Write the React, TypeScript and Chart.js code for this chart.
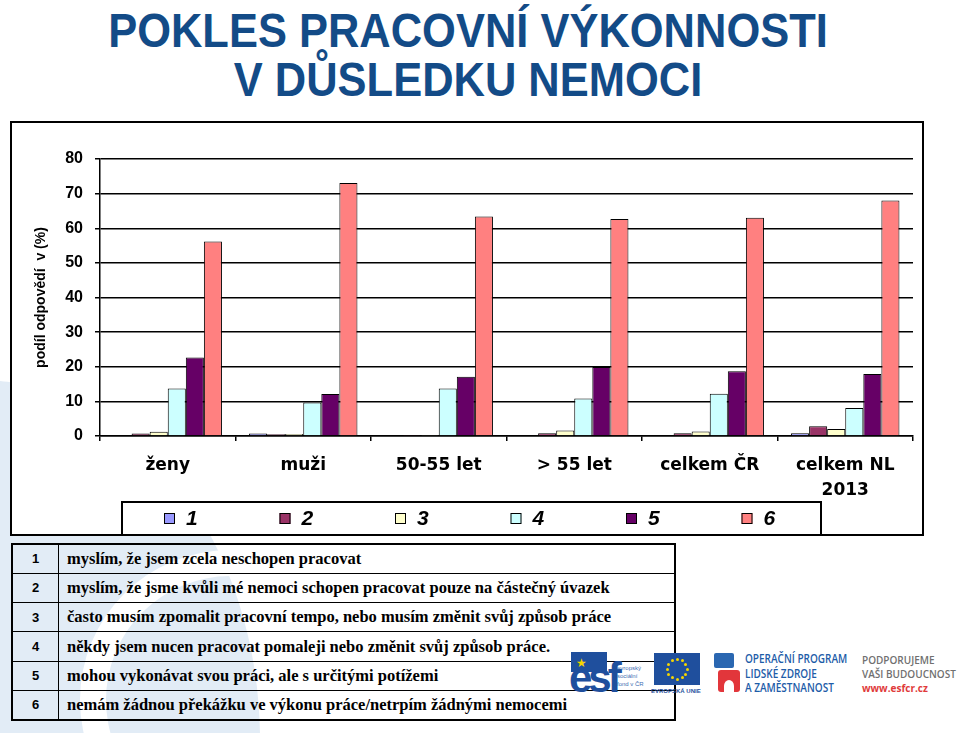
import React, { useEffect, useRef } from "react";
import { Chart, registerables } from "chart.js";

Chart.register(...registerables);

// ---------- data ----------
const categories: (string | string[])[] = ["ženy", "muži", "50-55 let", "> 55 let", "celkem ČR", ["celkem NL", "2013"]];
const seriesNames = ["1", "2", "3", "4", "5", "6"];
const series1 = [0, 0.7, 0, 0.2, 0.2, 0.8];
const series2 = [0.7, 0.5, 0.3, 0.8, 0.8, 2.8];
const series3 = [1.2, 0.6, 0.3, 1.6, 1.3, 2.0];
const series4 = [13.7, 9.7, 13.7, 10.8, 12.2, 8.1];
const series5 = [22.7, 12.1, 17.1, 19.9, 18.7, 17.9];
const series6 = [56.2, 73.1, 63.4, 62.7, 63.0, 68.0];
const seriesColors = ["#9999FF", "#993366", "#FFFFCC", "#CCFFFF", "#660066", "#FF8080"];
const yMin = 0;
const yMax = 80;
const yStep = 10;
const yTitle = "podíl odpovědí  v (%)";
const titleLines = ["POKLES PRACOVNÍ VÝKONNOSTI", "V DŮSLEDKU NEMOCI"];
const tableNumbers = ["1", "2", "3", "4", "5", "6"];
const tableTexts = [
  "myslím, že jsem zcela neschopen pracovat",
  "myslím, že jsme kvůli mé nemoci schopen pracovat pouze na částečný úvazek",
  "často musím zpomalit pracovní tempo, nebo musím změnit svůj způsob práce",
  "někdy jsem nucen pracovat pomaleji nebo změnit svůj způsob práce.",
  "mohou vykonávat svou práci, ale s určitými potížemi",
  "nemám žádnou překážku ve výkonu práce/netrpím žádnými nemocemi",
];

const allSeries = [series1, series2, series3, series4, series5, series6];

const boxLegend = {
  id: "boxLegend",
  afterDraw(chart: any) {
    const ctx = chart.ctx as CanvasRenderingContext2D;
    const xs = chart.scales.x;
    const top = xs.bottom + 2;
    const bottom = chart.height - 1;
    const cx = chart.width / 2 + 5;
    const left = cx - 350;
    const right = cx + 349;
    ctx.save();
    ctx.strokeStyle = "#000";
    ctx.lineWidth = 2;
    ctx.strokeRect(left, top, right - left, bottom - top + 2);
    const step = 115.5;
    const startX = left + 42;
    const cy = (top + bottom) / 2 + 1;
    chart.data.datasets.forEach((ds: any, i: number) => {
      const x = startX + i * step;
      ctx.fillStyle = ds.backgroundColor;
      ctx.fillRect(x, cy - 5.5, 11, 11);
      ctx.lineWidth = 1;
      ctx.strokeStyle = "#000";
      ctx.strokeRect(x + 0.5, cy - 5, 10, 10);
      ctx.fillStyle = "#000";
      ctx.font = "italic bold 21px 'Liberation Sans', Arial, sans-serif";
      ctx.textBaseline = "middle";
      ctx.textAlign = "left";
      ctx.fillText(ds.label, x + 22, cy + 1);
    });
    ctx.restore();
  },
};

function BarChart() {
  const ref = useRef<HTMLCanvasElement | null>(null);
  useEffect(() => {
    if (!ref.current) return;
    const chart = new Chart(ref.current, {
      type: "bar",
      data: {
        labels: categories as any,
        datasets: allSeries.map((d, i) => ({
          label: seriesNames[i],
          data: d,
          backgroundColor: seriesColors[i],
          borderColor: "#000",
          borderWidth: 1,
          categoryPercentage: 0.8,
          barPercentage: 1.0,
        })),
      },
      options: {
        responsive: false,
        maintainAspectRatio: false,
        animation: false,
        layout: { padding: { left: 0, top: 37, right: 10, bottom: 34 } },
        plugins: {
          legend: { display: false },
          tooltip: { enabled: false },
          title: { display: false },
        },
        scales: {
          x: {
            grid: {
              display: true,
              drawOnChartArea: false,
              drawTicks: true,
              tickLength: 5,
              color: "#000",
              lineWidth: 1.5,
              offset: true,
            },
            border: { display: true, color: "#000", width: 1.5 },
            ticks: {
              color: "#000",
              padding: 12,
              maxRotation: 0,
              autoSkip: false,
              font: { family: "'DejaVu Sans', sans-serif", size: 17, weight: "bold", lineHeight: 1.47 },
            },
            afterFit: (s: any) => {
              s.height = 64;
            },
          },
          y: {
            min: yMin,
            max: yMax,
            ticks: {
              stepSize: yStep,
              color: "#000",
              padding: 12,
              font: { family: "'Liberation Sans', Arial, sans-serif", size: 16, weight: "bold" },
            },
            grid: { color: "#000", lineWidth: 1.5, tickLength: 5, drawTicks: true },
            border: { display: true, color: "#000", width: 1.5 },
            title: {
              display: true,
              text: yTitle,
              color: "#000",
              padding: { top: 22, bottom: 0 },
              font: { family: "'Liberation Sans', Arial, sans-serif", size: 14, weight: "bold" },
            },
            afterFit: (s: any) => {
              s.width = 89;
            },
          },
        },
      } as any,
      plugins: [boxLegend],
    });
    return () => chart.destroy();
  }, []);
  return (
    <canvas
      ref={ref}
      width={912}
      height={412}
      style={{ position: "absolute", left: 11, top: 122, width: 912, height: 412 }}
    />
  );
}

function Logos() {
  const stars = Array.from({ length: 12 }, (_, i) => i);
  return (
    <>
      {/* ESF logo */}
      <div style={{ position: "absolute", left: 571, top: 652, width: 36, height: 20, background: "#1f4f9d" }} />
      <div style={{ position: "absolute", left: 576, top: 657, color: "#f5d600", fontSize: 12, lineHeight: "12px", fontFamily: "'DejaVu Sans'" }}>★</div>
      <div
        style={{
          position: "absolute",
          left: 569,
          top: 657,
          color: "#1f4f9d",
          fontFamily: "'Liberation Sans', Arial",
          fontWeight: "bold",
          fontSize: 42,
          lineHeight: "42px",
          letterSpacing: -4,
        }}
      >
        esf
      </div>
      <div
        style={{
          position: "absolute",
          left: 617,
          top: 664,
          color: "#3d6db3",
          fontFamily: "'Liberation Sans', Arial",
          fontSize: 6,
          lineHeight: "8px",
        }}
      >
        evropský
        <br />
        sociální
        <br />
        fond v ČR
      </div>
      {/* EU flag */}
      <div style={{ position: "absolute", left: 654, top: 653, width: 46, height: 32, background: "#1f4f9d" }} />
      {stars.map((i) => {
        const a = (i / 12) * Math.PI * 2;
        return (
          <div
            key={i}
            style={{
              position: "absolute",
              left: 677 + Math.cos(a) * 10 - 1.5,
              top: 669 + Math.sin(a) * 10 - 1.5,
              width: 3,
              height: 3,
              borderRadius: "50%",
              background: "#f5d600",
            }}
          />
        );
      })}
      <div
        style={{
          position: "absolute",
          left: 651,
          top: 687,
          color: "#1f4f9d",
          fontFamily: "'Liberation Sans', Arial",
          fontSize: 6,
          fontWeight: "bold",
          lineHeight: "8px",
        }}
      >
        EVROPSKÁ UNIE
      </div>
      {/* OP LZZ icon */}
      <div style={{ position: "absolute", left: 714, top: 653, width: 20, height: 15, background: "#2a67b1", borderRadius: 2 }} />
      <div style={{ position: "absolute", left: 718, top: 670, width: 22, height: 22, background: "#e2363b", borderRadius: 3 }} />
      <div style={{ position: "absolute", left: 724, top: 680, width: 10, height: 12, background: "#fff", borderRadius: "50% 50% 0 0" }} />
      <div
        style={{
          position: "absolute",
          left: 745,
          top: 652,
          color: "#1d5ca8",
          fontFamily: "'Open Sans', 'Liberation Sans', sans-serif",
          fontWeight: 600,
          fontSize: 12.5,
          lineHeight: "14.5px",
          whiteSpace: "nowrap",
          transform: "scaleX(0.8)",
          transformOrigin: "0 0",
        }}
      >
        OPERAČNÍ PROGRAM
        <br />
        LIDSKÉ ZDROJE
        <br />A ZAMĚSTNANOST
      </div>
      <div
        style={{
          position: "absolute",
          left: 862,
          top: 653,
          color: "#707070",
          fontFamily: "'Open Sans', 'Liberation Sans', sans-serif",
          fontWeight: 600,
          fontSize: 10,
          lineHeight: "14px",
          whiteSpace: "nowrap",
        }}
      >
        PODPORUJEME
        <br />
        VAŠI BUDOUCNOST
        <br />
        <span style={{ color: "#e03b3b", fontWeight: 700 }}>www.esfcr.cz</span>
      </div>
    </>
  );
}

export default function App() {
  return (
    <div
      style={{
        position: "fixed",
        left: 0,
        top: 0,
        width: 960,
        height: 733,
        overflow: "hidden",
        background: "#fff",
      }}
    >
      {/* decorative background swoosh */}
      <div
        style={{
          position: "absolute",
          left: -300,
          top: 380,
          width: 560,
          height: 720,
          borderRadius: "50%",
          background: "#e2ecf6",
        }}
      />
      <div
        style={{
          position: "absolute",
          left: 80,
          top: 550,
          width: 300,
          height: 300,
          boxSizing: "border-box",
          border: "26px solid",
          borderColor: "#fff transparent transparent #fff",
          borderRadius: "50%",
        }}
      />

      {/* title */}
      {titleLines.map((t, i) => (
        <div
          key={i}
          style={{
            position: "absolute",
            left: 0,
            top: 5.5 + i * 49,
            width: 936,
            textAlign: "center",
            color: "#134b87",
            fontFamily: "'Liberation Sans', Arial, sans-serif",
            fontWeight: "bold",
            fontSize: 49,
            lineHeight: "49px",
            whiteSpace: "nowrap",
            transform: "scaleX(0.887)",
            transformOrigin: "468px 0",
          }}
        >
          {t}
        </div>
      ))}

      {/* chart box */}
      <div
        style={{
          position: "absolute",
          left: 10,
          top: 121,
          width: 914,
          height: 415,
          boxSizing: "border-box",
          border: "2px solid #000",
          background: "#fff",
        }}
      />
      <BarChart />

      {/* explanation table */}
      <table
        style={{
          position: "absolute",
          left: 11,
          top: 543,
          width: 665,
          height: 177,
          borderCollapse: "collapse",
          border: "2px solid #000",
          background: "transparent",
        }}
      >
        <tbody>
          {tableNumbers.map((n, i) => (
            <tr key={n} style={{ height: 29.3 }}>
              <td
                style={{
                  width: 45,
                  border: "1.5px solid #000",
                  textAlign: "center",
                  fontFamily: "'Liberation Sans', Arial, sans-serif",
                  fontWeight: "bold",
                  fontSize: 13,
                  padding: 0,
                }}
              >
                {n}
              </td>
              <td
                style={{
                  border: "1.5px solid #000",
                  fontFamily: "'Liberation Serif', 'Times New Roman', serif",
                  fontWeight: "bold",
                  fontSize: 16.5,
                  padding: "0 0 0 8px",
                  whiteSpace: "nowrap",
                }}
              >
                {tableTexts[i]}
              </td>
            </tr>
          ))}
        </tbody>
      </table>

      <Logos />
    </div>
  );
}
